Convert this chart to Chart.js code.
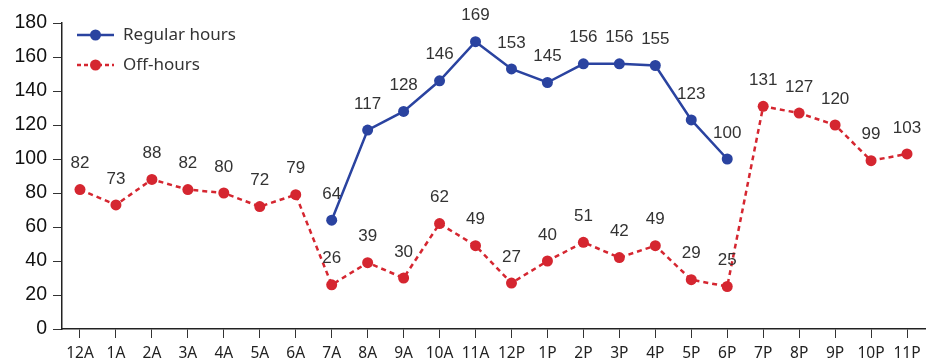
<!DOCTYPE html>
<html>
<head>
<meta charset="utf-8">
<script src="https://cdn.jsdelivr.net/npm/chart.js@4"></script>
<style>
html,body{margin:0;padding:0;background:#fff;}
#wrap{width:933px;height:363px;position:relative;}
</style>
</head>
<body>
<div id="wrap"><canvas id="c" width="933" height="363"></canvas></div>
<script>
const categories = ["12A","1A","2A","3A","4A","5A","6A","7A","8A","9A","10A","11A","12P","1P","2P","3P","4P","5P","6P","7P","8P","9P","10P","11P"];
const regularHours = [null,null,null,null,null,null,null,64,117,128,146,169,153,145,156,156,155,123,100,null,null,null,null,null];
const offHours = [82,73,88,82,80,72,79,26,39,30,62,49,27,40,51,42,49,29,25,131,127,120,99,103];
const yTicks = [0,20,40,60,80,100,120,140,160,180];
const seriesNames = ["Regular hours","Off-hours"];

const BLUE = '#2a43a0';
const RED = '#d52630';
const FONT = "'Liberation Sans', Arial, sans-serif";
const FONT2 = "'Noto Sans', 'Open Sans', sans-serif";

const valueLabels = {
  id:'valueLabels',
  afterDatasetsDraw(chart){
    const ctx = chart.ctx;
    ctx.save();
    ctx.font = "17px " + FONT;
    ctx.fillStyle = '#333';
    ctx.textAlign = 'center';
    ctx.textBaseline = 'middle';
    chart.data.datasets.forEach((ds,i)=>{
      const meta = chart.getDatasetMeta(i);
      meta.data.forEach((pt,j)=>{
        const v = ds.data[j];
        if(v===null||v===undefined) return;
        ctx.fillText(String(v), pt.x, pt.y - 26);
      });
    });
    ctx.restore();
  }
};

const customLegend = {
  id:'customLegend',
  afterDraw(chart){
    const ctx = chart.ctx;
    ctx.save();
    const items = [
      {name:seriesNames[0], color:BLUE, dash:[]},
      {name:seriesNames[1], color:RED, dash:[4,3]}
    ];
    items.forEach((it,k)=>{
      const y = 35 + k*30;
      const x0 = 77, x1 = 114;
      ctx.strokeStyle = it.color;
      ctx.lineWidth = 2.5;
      ctx.setLineDash(it.dash);
      ctx.beginPath(); ctx.moveTo(x0,y); ctx.lineTo(x1,y); ctx.stroke();
      ctx.setLineDash([]);
      ctx.fillStyle = it.color;
      ctx.beginPath(); ctx.arc((x0+x1)/2, y, 5.5, 0, Math.PI*2); ctx.fill();
      ctx.fillStyle = '#333';
      ctx.font = "17px " + FONT2;
      ctx.textAlign = 'left';
      ctx.textBaseline = 'middle';
      ctx.fillText(it.name, 123, y);
    });
    ctx.restore();
  }
};

new Chart(document.getElementById('c'), {
  type:'line',
  data:{
    labels:categories,
    datasets:[
      {label:seriesNames[0], data:regularHours, borderColor:BLUE, backgroundColor:BLUE,
       borderWidth:2.5, pointRadius:5.5, pointHoverRadius:5.5, pointBorderWidth:0, tension:0, spanGaps:false},
      {label:seriesNames[1], data:offHours, borderColor:RED, backgroundColor:RED,
       borderWidth:2.5, borderDash:[5,4], pointRadius:5.5, pointHoverRadius:5.5, pointBorderWidth:0, tension:0}
    ]
  },
  options:{
    responsive:false,
    animation:false,
    layout:{padding:{top:23,right:8,left:0,bottom:0}},
    plugins:{legend:{display:false}, tooltip:{enabled:false}},
    scales:{
      x:{
        offset:true,
        grid:{display:true, drawOnChartArea:false, drawTicks:true, tickLength:9, color:'#333', offset:false},
        border:{display:true, color:'#222', width:1.5},
        ticks:{color:'#222', font:{family:FONT2, size:15.5}, padding:6, maxRotation:0, autoSkip:false},
        afterFit(s){ s.height = 34; }
      },
      y:{
        min:0, max:180,
        afterBuildTicks(s){ s.ticks = yTicks.map(v=>({value:v})); },
        grid:{display:true, drawOnChartArea:false, drawTicks:true, tickLength:9, color:'#333'},
        border:{display:true, color:'#222', width:1.5},
        ticks:{color:'#111', font:{family:FONT, size:19.5}, padding:6},
        afterFit(s){ s.width = 62; }
      }
    }
  },
  plugins:[valueLabels, customLegend]
});
</script>
</body>
</html>
